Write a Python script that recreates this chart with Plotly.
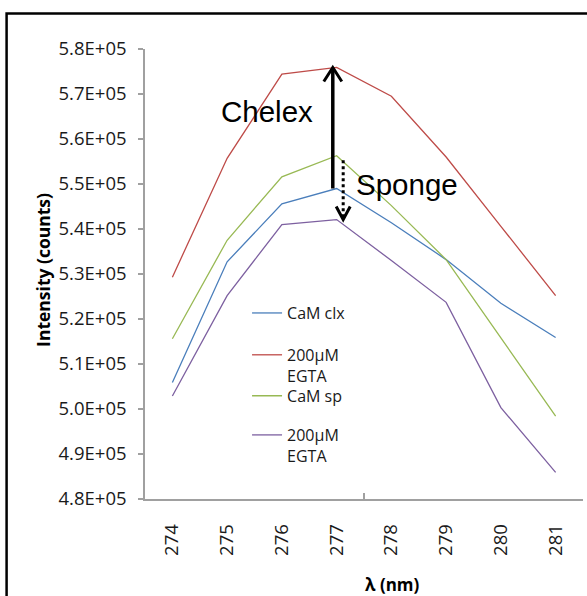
import plotly.graph_objects as go

wavelength = [274, 275, 276, 277, 278, 279, 280, 281]
cam_clx = [5.059e5, 5.327e5, 5.456e5, 5.490e5, 5.414e5, 5.332e5, 5.235e5, 5.159e5]
egta_clx = [5.293e5, 5.557e5, 5.744e5, 5.759e5, 5.695e5, 5.560e5, 5.406e5, 5.252e5]
cam_sp = [5.156e5, 5.375e5, 5.516e5, 5.563e5, 5.452e5, 5.332e5, 5.158e5, 4.984e5]
egta_sp = [5.029e5, 5.252e5, 5.410e5, 5.421e5, 5.330e5, 5.237e5, 5.003e5, 4.859e5]

series_names = ["CaM clx", "200\u03bcM<br>EGTA", "CaM sp", "200\u03bcM<br>EGTA"]
series_colors = ["#4A7EBB", "#BE4B48", "#98B954", "#7D60A0"]
series_values = [cam_clx, egta_clx, cam_sp, egta_sp]
legend_ids = ["legend", "legend2", "legend3", "legend4"]
legend_tops = [0.451, 0.358, 0.267, 0.180]

y_tickvals = [4.8e5, 4.9e5, 5.0e5, 5.1e5, 5.2e5, 5.3e5, 5.4e5, 5.5e5, 5.6e5, 5.7e5, 5.8e5]
y_ticktext = ["4.8E+05", "4.9E+05", "5.0E+05", "5.1E+05", "5.2E+05", "5.3E+05",
              "5.4E+05", "5.5E+05", "5.6E+05", "5.7E+05", "5.8E+05"]
x_ticktext = [str(w) for w in wavelength]

FONT = "Open Sans"
AXIS_GRAY = "#a0a0a0"
TEXT_COLOR = "#1a1a1a"

fig = go.Figure()
for name, color, vals, lg in zip(series_names, series_colors, series_values, legend_ids):
    fig.add_trace(go.Scatter(x=wavelength, y=vals, mode="lines", name=name, legend=lg,
                             line=dict(color=color, width=1.3)))

# Arrows
solid_x = 276.93
dot_x = 277.12
fig.add_shape(type="line", xref="x", yref="y", x0=solid_x, x1=solid_x,
              y0=cam_clx[3], y1=egta_clx[3] - 500, line=dict(color="black", width=3.5))
fig.add_shape(type="path", xref="x", yref="y", xsizemode="pixel", ysizemode="pixel",
              xanchor=solid_x, yanchor=egta_clx[3],
              path="M -9,-14 L 0,0 L 9,-14", line=dict(color="black", width=3))
fig.add_shape(type="line", xref="x", yref="y", x0=dot_x, x1=dot_x,
              y0=cam_sp[3] - 1000, y1=egta_sp[3] + 300,
              line=dict(color="black", width=3, dash="dot"))
fig.add_shape(type="path", xref="x", yref="y", xsizemode="pixel", ysizemode="pixel",
              xanchor=dot_x, yanchor=egta_sp[3],
              path="M -7,13 L 0,0 L 7,13", line=dict(color="black", width=3))

fig.add_annotation(x=275.73, y=5.661e5, xref="x", yref="y", text="Chelex", showarrow=False,
                   font=dict(family="Liberation Sans", size=29.5, color="black"),
                   xanchor="center", yanchor="middle")
fig.add_annotation(x=278.28, y=5.499e5, xref="x", yref="y", text="Sponge", showarrow=False,
                   font=dict(family="Liberation Sans", size=29.5, color="black"),
                   xanchor="center", yanchor="middle")

# Axis titles
fig.add_annotation(x=-0.233, y=0.509, xref="paper", yref="paper", text="<b>Intensity (counts)</b>",
                   textangle=-90, showarrow=False, font=dict(family=FONT, size=17.5, color="black"),
                   xanchor="center", yanchor="middle")
fig.add_annotation(x=0.566, y=-0.1889, xref="paper", yref="paper", text="<b>\u03bb (nm)</b>",
                   showarrow=False, font=dict(family=FONT, size=17, color="black"),
                   xanchor="center", yanchor="middle")

# Outer border
fig.add_shape(type="rect", xref="paper", yref="paper", x0=-0.316, x1=1.2, y0=-0.3, y1=1.0789,
              line=dict(color="black", width=2.5), layer="below")

legend_style = dict(x=0.233, xanchor="left", yanchor="top", valign="top",
                    bgcolor="rgba(0,0,0,0)", font=dict(family=FONT, size=16, color=TEXT_COLOR))
legend_layout = {lg: dict(y=top, **legend_style) for lg, top in zip(legend_ids, legend_tops)}

fig.update_layout(
    width=587, height=596,
    margin=dict(l=145, r=4, t=49, b=97),
    paper_bgcolor="white", plot_bgcolor="white",
    font=dict(family=FONT, size=18.5, color=TEXT_COLOR),
    showlegend=True,
    **legend_layout,
    xaxis=dict(range=[273.5, 281.5], tickmode="array", tickvals=wavelength, ticktext=x_ticktext,
               tickangle=-90, ticks="", showgrid=False, zeroline=False,
               showline=True, linecolor=AXIS_GRAY, linewidth=1.5,
               ticklabelstandoff=16,
               minor=dict(tickmode="array", tickvals=[277.5], ticks="inside", ticklen=6,
                          tickcolor=AXIS_GRAY, tickwidth=1.5, showgrid=False)),
    yaxis=dict(range=[4.8e5, 5.8e5], tickmode="array", tickvals=y_tickvals, ticktext=y_ticktext,
               ticks="outside", ticklen=5, tickcolor=AXIS_GRAY, tickwidth=1.5,
               showgrid=False, zeroline=False, showline=True, linecolor=AXIS_GRAY, linewidth=1.5,
               ticklabelstandoff=8),
)

fig.write_html("out.html")
